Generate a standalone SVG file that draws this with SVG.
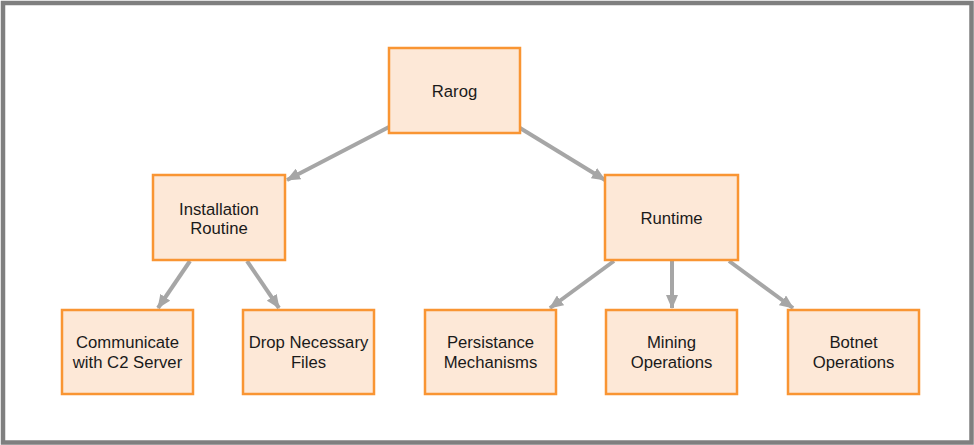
<svg xmlns="http://www.w3.org/2000/svg" width="974" height="445" viewBox="0 0 974 445">
<defs>
<style>
.n rect{fill:#fde8d7;stroke:#f99533;stroke-width:2.5}
.n text{font-family:"Liberation Sans",Arial,sans-serif;font-size:16.7px;fill:#1a1a1a;text-anchor:middle}
.c line{stroke:#a6a6a6;stroke-width:4;marker-end:url(#ah)}
</style>
<marker id="ah" markerUnits="userSpaceOnUse" markerWidth="14" markerHeight="12" refX="13" refY="6" orient="auto">
<path d="M0,0 L14,6 L0,12 z" fill="#a6a6a6"/>
</marker>
</defs>
<rect x="0" y="0" width="974" height="445" fill="#fff"/>
<rect x="3" y="3" width="968.5" height="439.5" fill="#fff" stroke="#7f7f7f" stroke-width="4.5"/>
<g class="c" id="connectors">
<line x1="389" y1="127" x2="287" y2="180"/>
<line x1="520" y1="128" x2="605" y2="180"/>
<line x1="190" y1="261" x2="158" y2="308"/>
<line x1="247" y1="261" x2="279" y2="308"/>
<line x1="614" y1="261" x2="550" y2="308"/>
<line x1="672" y1="261" x2="672" y2="308"/>
<line x1="729" y1="261" x2="793" y2="308"/>
</g>
<g class="n" id="rarog"><rect x="389" y="48" width="131" height="85"/><text x="454.5" y="97">Rarog</text></g>
<g class="n" id="installation"><rect x="153" y="175" width="132" height="85"/><text x="219" y="215">Installation</text><text x="219" y="234">Routine</text></g>
<g class="n" id="runtime"><rect x="605" y="175" width="133" height="85"/><text x="671.5" y="224">Runtime</text></g>
<g class="n" id="communicate"><rect x="62" y="310" width="131" height="84"/><text x="127.5" y="348">Communicate</text><text x="127.5" y="368">with C2 Server</text></g>
<g class="n" id="drop"><rect x="243" y="310" width="131" height="84"/><text x="308.5" y="348">Drop Necessary</text><text x="308.5" y="368">Files</text></g>
<g class="n" id="persistance"><rect x="425" y="310" width="131" height="84"/><text x="490.5" y="348">Persistance</text><text x="490.5" y="368">Mechanisms</text></g>
<g class="n" id="mining"><rect x="606" y="310" width="131" height="84"/><text x="671.5" y="348">Mining</text><text x="671.5" y="368">Operations</text></g>
<g class="n" id="botnet"><rect x="788" y="310" width="131" height="84"/><text x="853.5" y="348">Botnet</text><text x="853.5" y="368">Operations</text></g>
</svg>
